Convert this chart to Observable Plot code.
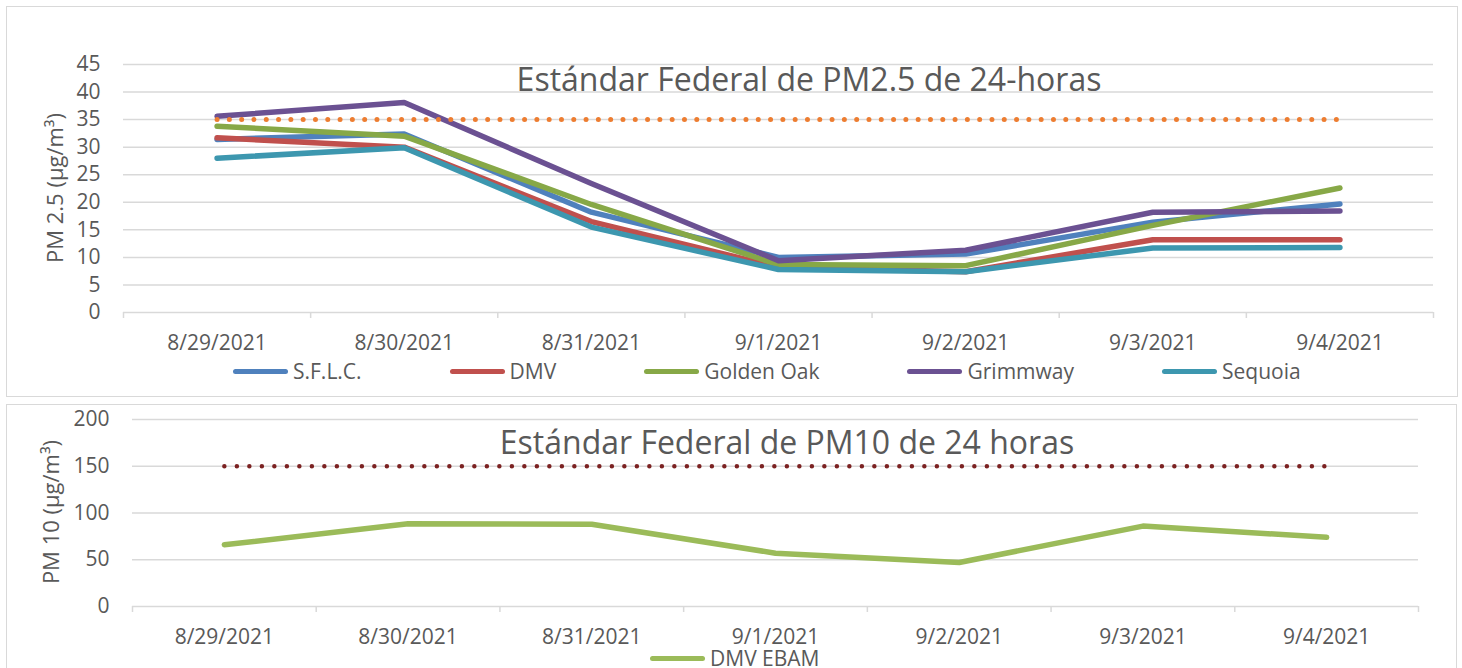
<!DOCTYPE html>
<html><head><meta charset="utf-8">
<script src="https://cdn.jsdelivr.net/npm/d3@7"></script>
<script src="https://cdn.jsdelivr.net/npm/@observablehq/plot@0.6"></script>
<style>
body{margin:0;background:#fff;font-family:"Open Sans",sans-serif;}
#page{position:relative;width:1462px;height:668px;overflow:hidden;background:#fff;}
.box{position:absolute;border:1.5px solid #D9D9D9;box-sizing:border-box;}
.title{position:absolute;font-size:32px;color:#595959;white-space:nowrap;line-height:32px;transform:translateX(-50%);}
.ytitle{position:absolute;left:0;top:0;font-size:22px;color:#595959;white-space:nowrap;line-height:22px;}
.legend{position:absolute;display:flex;gap:88px;align-items:center;font-size:21px;color:#595959;line-height:18px;height:18px;white-space:nowrap;}
.item{display:flex;align-items:center;}
.sw{width:55px;height:5px;border-radius:3px;margin-right:5px;}
svg{position:absolute;left:0;}
</style></head><body><div id="page">
<div class="box" style="left:6px;top:6px;width:1452px;height:391px;"></div>
<div class="box" style="left:6px;top:404px;width:1451px;height:280px;"></div>
</div>
<script>
// ---- data ----
const dates = ["8/29/2021","8/30/2021","8/31/2021","9/1/2021","9/2/2021","9/3/2021","9/4/2021"];
const seriesNames = ["S.F.L.C.","DMV","Golden Oak","Grimmway","Sequoia"];
const seriesColors = ["#4F81BD","#C0504D","#87A847","#6B5192","#3D97AF"];
const sflc      = [31.4, 32.4, 18.2, 10.0, 10.6, 16.4, 19.7];
const dmv       = [31.7, 30.0, 16.5,  8.2,  7.4, 13.2, 13.2];
const goldenOak = [33.8, 32.0, 19.6,  8.7,  8.5, 15.8, 22.6];
const grimmway  = [35.6, 38.1, 23.4,  9.4, 11.3, 18.2, 18.4];
const sequoia   = [28.0, 29.9, 15.5,  7.8,  7.4, 11.7, 11.8];
const pm25Standard = [35, 35, 35, 35, 35, 35, 35];
const pm25Ticks = [0,5,10,15,20,25,30,35,40,45];
const pm10Name = "DMV EBAM";
const dmvEbam = [66, 88.5, 88, 57, 47, 86, 74];
const pm10Standard = [150, 150, 150, 150, 150, 150, 150];
const pm10Ticks = [0,50,100,150,200];
const title25 = "Estándar Federal de PM2.5 de 24-horas";
const title10 = "Estándar Federal de PM10 de 24 horas";
const ylab25 = "PM 2.5 (µg/m³)";
const ylab10 = "PM 10 (µg/m³)";

// ---- build tables ----
const idx = dates.map((d, i) => i);
const bounds = d3.range(dates.length + 1).map(i => i - 0.5);
const seriesValues = [sflc, dmv, goldenOak, grimmway, sequoia];
const rows25 = seriesNames.flatMap((s, k) => seriesValues[k].map((v, i) => ({series: s, i, value: v})));
const std25 = pm25Standard.map((v, i) => ({i, value: v}));
const rows10 = dmvEbam.map((v, i) => ({i, value: v}));
const std10 = pm10Standard.map((v, i) => ({i, value: v}));

const grid = "#D9D9D9", ink = "#595959";
function chart({height, mt, mb, ml, mr, ydom, ticks, lines}) {
  return Plot.plot({
    width: 1462, height, marginTop: mt, marginBottom: mb, marginLeft: ml, marginRight: mr,
    style: {fontFamily: "Open Sans", fontSize: "21px", color: ink, background: "transparent", overflow: "visible"},
    x: {domain: [-0.5, dates.length - 0.5], label: null},
    y: {domain: ydom, label: null},
    color: {domain: seriesNames, range: seriesColors},
    marks: [
      Plot.gridY(ticks, {stroke: grid, strokeOpacity: 1, strokeWidth: 1.5}),
      Plot.axisX(bounds, {tickSize: 6, tickFormat: () => "", stroke: grid, strokeWidth: 1.5, strokeOpacity: 1, label: null}),
      Plot.axisY(ticks, {tickSize: 0, tickPadding: 23, label: null, fill: ink, fontSize: 21}),
      Plot.axisX(idx, {tickSize: 0, tickPadding: 23, tickFormat: i => dates[i], label: null, fill: ink, fontSize: 21}),
      ...lines
    ]
  });
}

const top25 = chart({
  height: 400, mt: 64, mb: 88, ml: 123, mr: 29, ydom: [0, 45], ticks: pm25Ticks,
  lines: [
    Plot.line(rows25, {x: "i", y: "value", z: "series", stroke: "series", strokeWidth: 5.5, strokeLinecap: "round", strokeLinejoin: "round"}),
    Plot.line(std25, {x: "i", y: "value", stroke: "#ED7D31", strokeWidth: 5, strokeLinecap: "round", strokeDasharray: "0 12.3"})
  ]
});
top25.style.top = "0px";

const bot10 = chart({
  height: 268, mt: 19, mb: 62, ml: 132, mr: 44, ydom: [0, 200], ticks: pm10Ticks,
  lines: [
    Plot.line(rows10, {x: "i", y: "value", stroke: "#9BBB59", strokeWidth: 5.5, strokeLinecap: "round", strokeLinejoin: "round"}),
    Plot.line(std10, {x: "i", y: "value", stroke: "#7B2222", strokeWidth: 4.5, strokeLinecap: "round", strokeDasharray: "0 12.5"})
  ]
});
bot10.style.top = "400px";

const page = document.getElementById("page");
page.appendChild(top25);
page.appendChild(bot10);

function addDiv(cls, text, css) {
  const d = document.createElement("div");
  d.className = cls; d.textContent = text; d.style.cssText = css;
  page.appendChild(d); return d;
}
addDiv("title", title25, "left:809px;top:63px;");
addDiv("title", title10, "left:787px;top:426px;");
function yTitle(text, cx, cy) {
  const d = addDiv("ytitle", text, "");
  const w = d.offsetWidth, h = d.offsetHeight;
  d.style.transform = `translate(${cx - w/2}px, ${cy - h/2}px) rotate(-90deg)`;
}
yTitle(ylab25, 54, 188);
yTitle(ylab10, 50, 512);

function legend(names, colors, left, cy) {
  const L = document.createElement("div");
  L.className = "legend"; L.style.left = left + "px"; L.style.top = (cy - 9) + "px";
  names.forEach((n, k) => {
    const it = document.createElement("div"); it.className = "item";
    const sw = document.createElement("div"); sw.className = "sw"; sw.style.background = colors[k];
    const t = document.createElement("span"); t.textContent = n;
    it.appendChild(sw); it.appendChild(t); L.appendChild(it);
  });
  page.appendChild(L);
}
legend(seriesNames, seriesColors, 233, 371);
legend([pm10Name], ["#9BBB59"], 650, 658);
</script>
</body></html>
